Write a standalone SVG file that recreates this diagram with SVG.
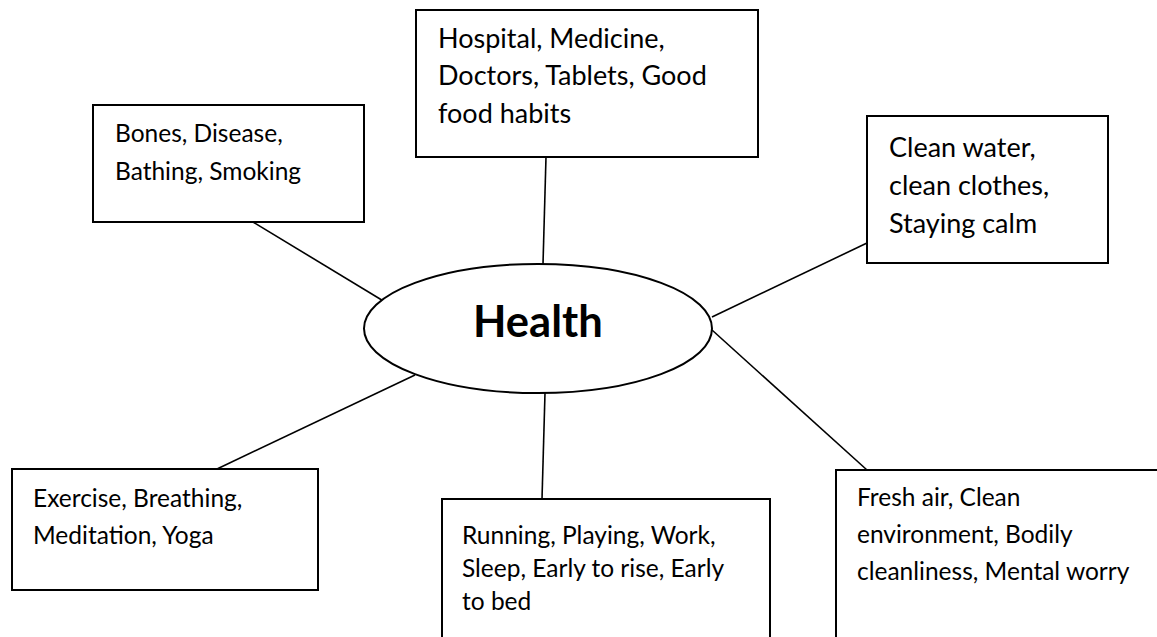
<svg xmlns="http://www.w3.org/2000/svg" width="1157" height="637" viewBox="0 0 1157 637">
<style>
.box{fill:#fff;stroke:#000;stroke-width:2}
.conn line{stroke:#000;stroke-width:1.6}
.t{font-family:Lato,"Open Sans","Liberation Sans",sans-serif;font-size:24.5px;fill:#000}
.t2{font-family:Lato,"Open Sans","Liberation Sans",sans-serif;font-size:27px;fill:#000}
.h{font-family:Lato,"Open Sans","Liberation Sans",sans-serif;font-size:43.5px;font-weight:bold;fill:#000}
</style>
<rect width="1157" height="637" fill="#fff"/>
<g id="connectors" class="conn">
<line x1="253" y1="222" x2="390" y2="305"/>
<line x1="546" y1="157" x2="543" y2="264"/>
<line x1="867" y1="243" x2="712" y2="317"/>
<line x1="712" y1="330" x2="867" y2="470"/>
<line x1="545" y1="393" x2="542" y2="499"/>
<line x1="415" y1="375" x2="217" y2="469"/>
</g>
<g id="center">
<ellipse class="box" cx="538" cy="328.5" rx="174" ry="64.5"/>
<text class="h" x="473" y="337">Health</text>
</g>
<g id="top-center">
<rect class="box" x="416" y="10" width="342" height="147"/>
<text class="t2" x="438" y="48">Hospital, Medicine,</text>
<text class="t2" x="438" y="85">Doctors, Tablets, Good</text>
<text class="t2" x="438" y="123">food habits</text>
</g>
<g id="top-left">
<rect class="box" x="93" y="105" width="271" height="117"/>
<text class="t" x="115" y="142">Bones, Disease,</text>
<text class="t" x="115" y="180">Bathing, Smoking</text>
</g>
<g id="top-right">
<rect class="box" x="867" y="116" width="241" height="147"/>
<text class="t2" x="889" y="157">Clean water,</text>
<text class="t2" x="889" y="195">clean clothes,</text>
<text class="t2" x="889" y="233">Staying calm</text>
</g>
<g id="bottom-left">
<rect class="box" x="12" y="469" width="306" height="121"/>
<text class="t" x="33" y="507">Exercise, Breathing,</text>
<text class="t" x="33" y="544">Meditation, Yoga</text>
</g>
<g id="bottom-center">
<rect class="box" x="442" y="499" width="328" height="160"/>
<text class="t" x="462" y="544">Running, Playing, Work,</text>
<text class="t" x="462" y="577">Sleep, Early to rise, Early</text>
<text class="t" x="462" y="610">to bed</text>
</g>
<g id="bottom-right">
<rect class="box" x="836" y="470" width="340" height="190"/>
<text class="t" x="857" y="506">Fresh air, Clean</text>
<text class="t" x="857" y="543">environment, Bodily</text>
<text class="t" x="857" y="580">cleanliness, Mental worry</text>
</g>
</svg>
